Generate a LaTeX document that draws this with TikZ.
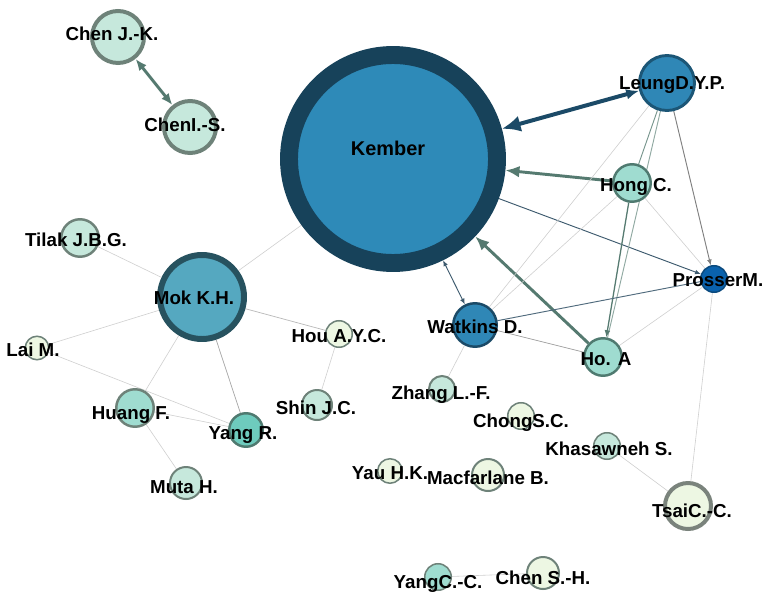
\documentclass[tikz,border=0pt]{standalone}
\usepackage{fontspec}
\setmainfont{Liberation Sans}
\usepackage{tikz}
\usetikzlibrary{arrows.meta}
\pgfdeclarelayer{bg}
\pgfsetlayers{bg,main}

\definecolor{kemring}{HTML}{17425A}
\definecolor{kemfill}{HTML}{2E8AB8}
\definecolor{bluering}{HTML}{1C5676}
\definecolor{bluefill}{HTML}{2F87B6}
\definecolor{prosfill}{HTML}{0A62AD}
\definecolor{prosring}{HTML}{0B4A7E}
\definecolor{mokring}{HTML}{27525F}
\definecolor{mokfill}{HTML}{55A8C0}
\definecolor{greenring}{HTML}{6E8279}
\definecolor{tealring}{HTML}{4F7A70}
\definecolor{tealfill}{HTML}{9FDCD0}
\definecolor{tealdeep}{HTML}{6ECBBD}
\definecolor{mintfill}{HTML}{C6E8DC}
\definecolor{palefill}{HTML}{EDF7E3}
\definecolor{tsairing}{HTML}{7A837C}
\definecolor{faintgray}{HTML}{CFCFCF}
\definecolor{arrowgreen}{HTML}{557A70}
\definecolor{arrowblue}{HTML}{1B4A67}
\definecolor{thinblue}{HTML}{3D5A6E}

\begin{document}
\begin{tikzpicture}[x=0.03cm,y=-0.03cm,
  vert/.style={circle,inner sep=0pt,minimum size=#1*0.06cm},
  mint/.style={fill=mintfill,draw=greenring},
  pale/.style={fill=palefill,draw=greenring,line width=1.3pt},
  teal/.style={fill=tealfill,draw=tealring,line width=2.1pt},
  lbl/.style={font=\fontsize{16}{16}\selectfont\bfseries,inner sep=0pt,text height=11.5pt,text depth=0pt},
  faint/.style={draw=faintgray,line width=0.5pt},
  thinlink/.style={line width=0.8pt},
  fat/.style={line width=2.5pt,draw=arrowgreen}]

\useasboundingbox (0,0) rectangle (766,594);

% circles
\node[vert=26,mint,line width=3.4pt] (chenjk) at (118,37) {};
\node[vert=26,mint,line width=3.4pt] (chenis) at (190,127) {};
\node[vert=104,fill=kemfill,draw=kemring,line width=15.3pt] (kember) at (393,159) {};
\node[vert=27.5,fill=bluefill,draw=bluering,line width=2.5pt] (leung) at (667,83) {};
\node[vert=18.75,teal] (hong) at (632,183) {};
\node[vert=13.25,fill=prosfill,draw=prosring,line width=1.3pt] (prosser) at (714,279) {};
\node[vert=21.75,fill=bluefill,draw=arrowblue,line width=2.1pt] (watkins) at (475,325) {};
\node[vert=18.75,teal] (hoa) at (603,357) {};
\node[vert=13,mint,line width=1.7pt] (zhang) at (442,389) {};
\node[vert=13.25,pale] (chong) at (521,416) {};
\node[vert=13.25,mint,line width=1.3pt] (khas) at (607,446) {};
\node[vert=12.25,pale] (yau) at (390,471) {};
\node[vert=16,pale,line width=1.7pt] (macf) at (488,475) {};
\node[vert=23,fill=palefill,draw=tsairing,line width=3.4pt] (tsai) at (688,506) {};
\node[vert=13.25,fill=tealfill,draw=greenring,line width=1.3pt] (yangcc) at (438,577) {};
\node[vert=16,pale,line width=1.7pt] (chensh) at (543,573) {};
\node[vert=18.75,mint,line width=2.1pt] (tilak) at (80,238) {};
\node[vert=42,fill=mokfill,draw=mokring,line width=5.1pt] (mok) at (202,297) {};
\node[vert=11.75,pale] (lai) at (37,348) {};
\node[vert=13.25,pale] (hou) at (339,334) {};
\node[vert=15,mint,line width=1.7pt] (shin) at (317,405) {};
\node[vert=18.75,teal,draw=greenring] (huang) at (135,408) {};
\node[vert=16.75,fill=tealdeep,draw=tealring,line width=2.1pt] (yangr) at (246,430) {};
\node[vert=16,mint,line width=1.7pt] (muta) at (186,483) {};

% links
\begin{pgfonlayer}{bg}
\fill[white] (0,0) rectangle (766,594);
\draw[fat,{Latex[length=10pt,width=8pt]}-{Latex[length=10pt,width=8pt]}] (chenjk) -- (chenis);
\draw[line width=3.4pt,draw=arrowblue,{Latex[length=16pt,width=14pt]}-{Latex[length=11pt,width=9pt]}] (kember) -- (leung);
\draw[fat,-{Latex[length=12pt,width=10pt]}] (hong) -- (kember);
\draw[fat,-{Latex[length=12pt,width=10pt]}] (hoa) -- (kember);
\draw[thinlink,draw=thinblue,{Latex[length=5pt,width=4pt]}-{Latex[length=5pt,width=4pt]}] (kember) -- (watkins);
\draw[thinlink,draw=thinblue,-{Latex[length=5pt,width=4pt]}] (kember) -- (prosser);
\draw[thinlink,draw=gray,-{Latex[length=5pt,width=4pt]}] (leung) -- (prosser);
\draw[thinlink,draw=arrowgreen!80] (leung) -- (hong);
\draw[thinlink,draw=arrowgreen!65] (leung) -- (hoa);
\draw[line width=1.1pt,draw=arrowgreen,-{Latex[length=6pt,width=5pt]}] (hong) -- (hoa);
\draw[thinlink,draw=thinblue!90] (watkins) -- (prosser);
\draw[line width=0.6pt,draw=gray!80] (watkins) -- (hoa);
\draw[line width=0.6pt,draw=gray!70] (mok) -- (yangr);
\draw[line width=0.6pt,draw=gray!55] (mok) -- (hou);
\foreach \a/\b in {leung/watkins,hong/watkins,hong/prosser,hoa/prosser,prosser/tsai,
  khas/tsai,yangcc/chensh,zhang/watkins,mok/kember,mok/tilak,mok/lai,mok/huang,
  lai/yangr,huang/yangr,huang/muta,hou/shin}
  \draw[faint] (\a) -- (\b);
\end{pgfonlayer}

% names
\node[lbl] (chenjk-t) at (112,34) {Chen J.-K.};
\node[lbl] (chenis-t) at (185,125) {ChenI.-S.};
\node[lbl,font=\fontsize{17}{17}\selectfont\bfseries,text height=12.2pt] (kember-t) at (388,148) {Kember};
\node[lbl] (leung-t) at (672,83) {LeungD.Y.P.};
\node[lbl] (hong-t) at (636,185) {Hong C.};
\node[lbl] (prosser-t) at (718,280) {ProsserM.};
\node[lbl] (watkins-t) at (475,327) {Watkins D.};
\node[lbl] (hoa-t) at (606,359) {Ho. A};
\node[lbl] (zhang-t) at (441,393) {Zhang L.-F.};
\node[lbl] (chong-t) at (521,421) {ChongS.C.};
\node[lbl] (khas-t) at (609,449) {Khasawneh S.};
\node[lbl] (yau-t) at (390,473) {Yau H.K.};
\node[lbl] (macf-t) at (488,478) {Macfarlane B.};
\node[lbl] (tsai-t) at (692,511) {TsaiC.-C.};
\node[lbl] (yangcc-t) at (438,582) {YangC.-C.};
\node[lbl] (chensh-t) at (543,578) {Chen S.-H.};
\node[lbl] (tilak-t) at (76,240) {Tilak J.B.G.};
\node[lbl] (mok-t) at (194,298) {Mok K.H.};
\node[lbl] (lai-t) at (33,350) {Lai M.};
\node[lbl] (hou-t) at (339,336) {Hou A.Y.C.};
\node[lbl] (shin-t) at (316,408) {Shin J.C.};
\node[lbl] (huang-t) at (131,413) {Huang F.};
\node[lbl] (yangr-t) at (243,433) {Yang R.};
\node[lbl] (muta-t) at (184,487) {Muta H.};
\end{tikzpicture}
\end{document}
